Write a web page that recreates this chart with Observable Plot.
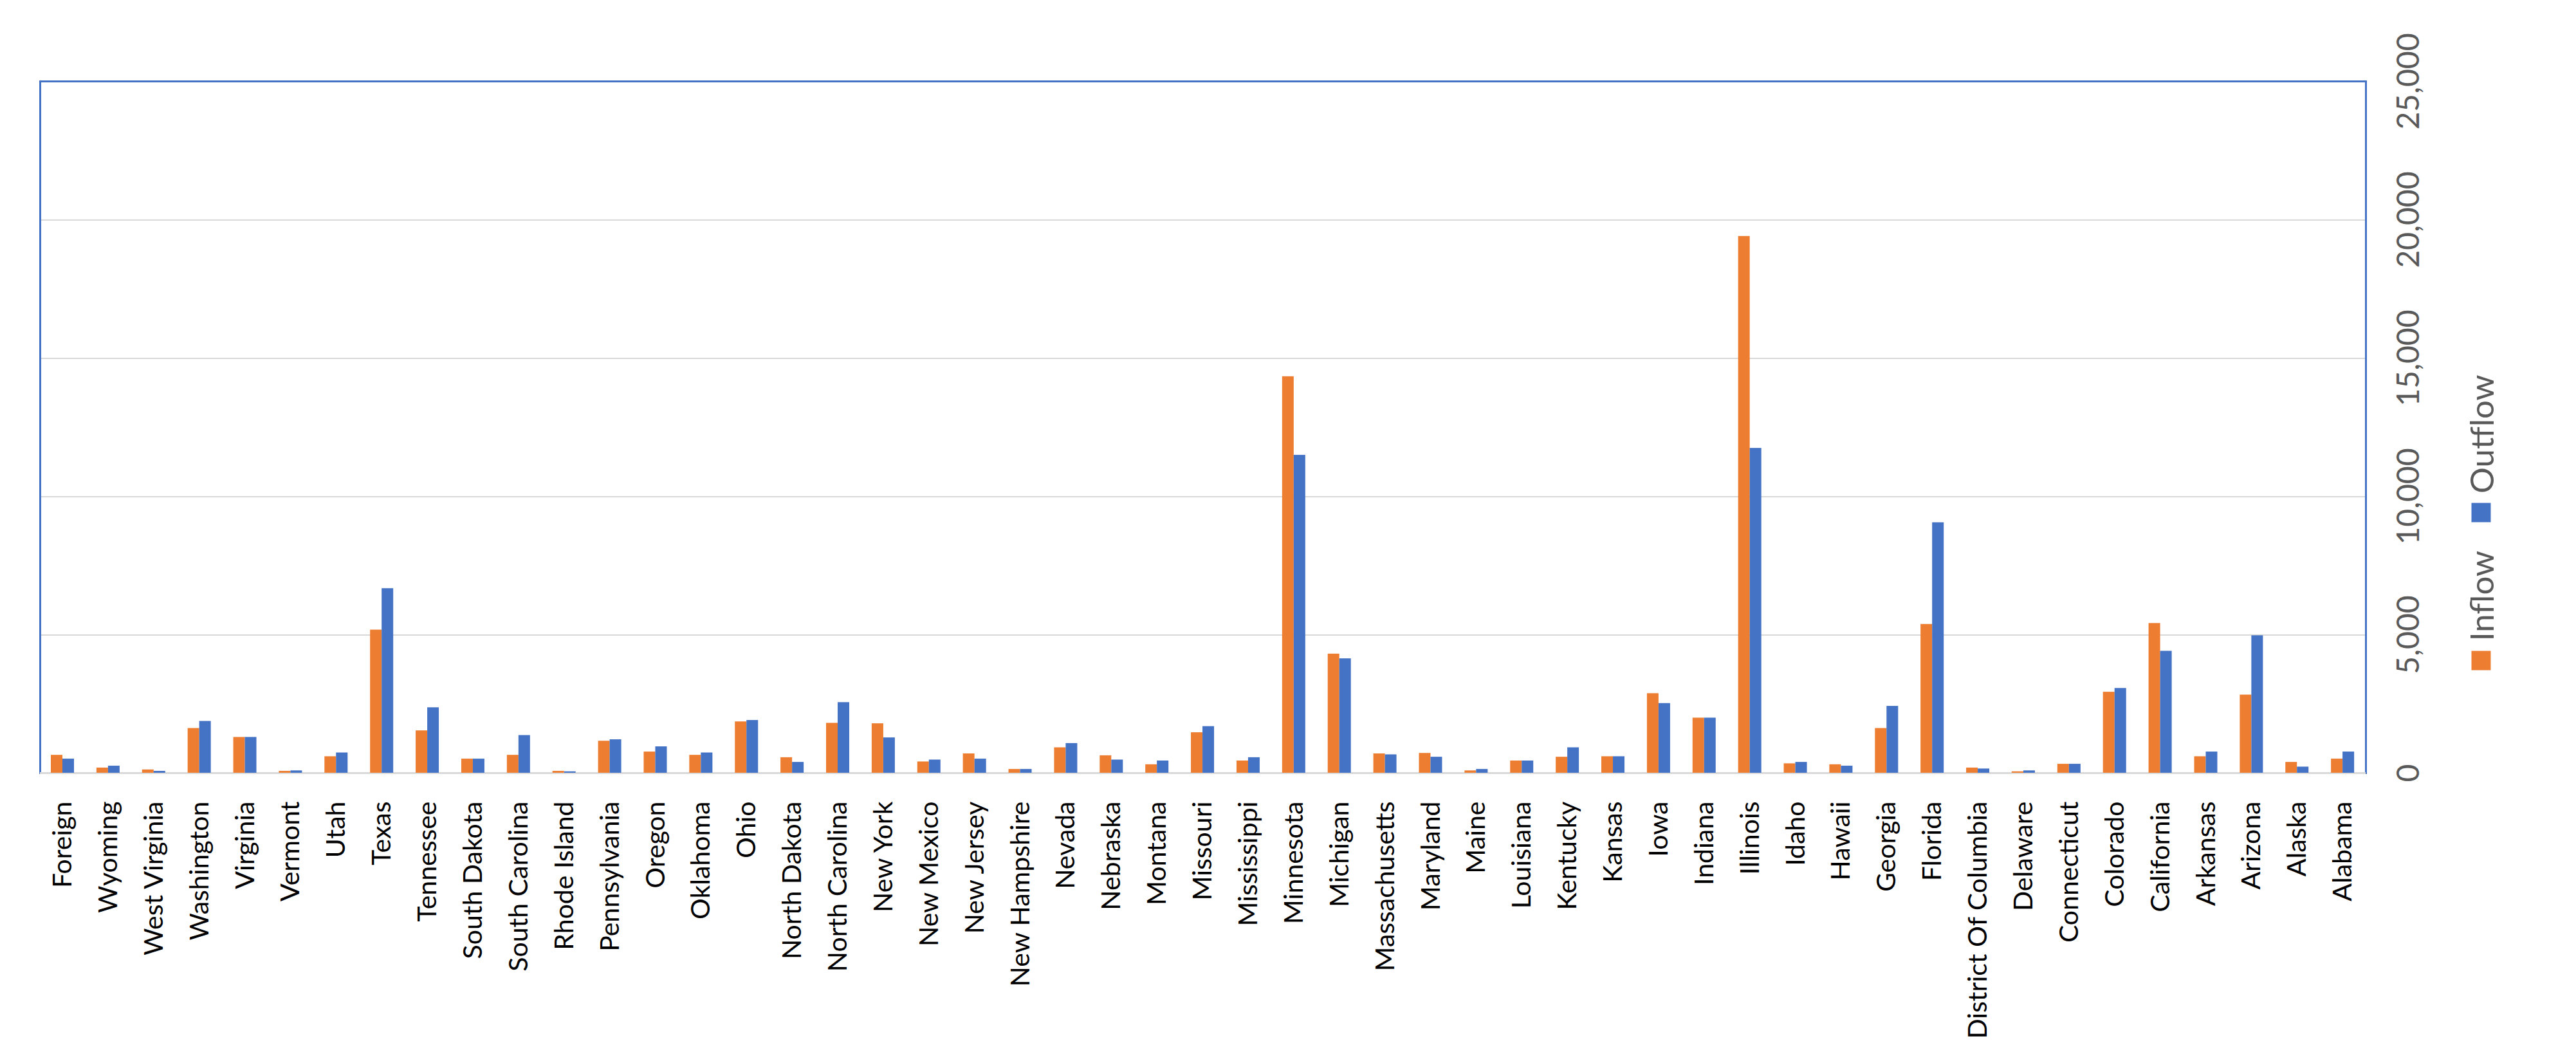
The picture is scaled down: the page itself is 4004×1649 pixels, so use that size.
<!DOCTYPE html>
<html>
<head>
<meta charset="utf-8">
<script src="https://cdn.jsdelivr.net/npm/d3@7"></script>
<script src="https://cdn.jsdelivr.net/npm/@observablehq/plot@0.6"></script>
<style>
  html, body { margin: 0; padding: 0; background: #fff; }
  #chart { position: relative; width: 4004px; height: 1649px; }
  #chart svg { position: absolute; left: 0; top: 0; }
  #legend {
    position: absolute; left: 3856px; top: 812px;
    transform: translate(-50%, -50%) rotate(-90deg);
    display: flex; align-items: center; white-space: nowrap;
    font-family: Lato, sans-serif; font-size: 51px; color: #595959;
  }
  #legend .sw { display: inline-block; width: 30px; height: 30px; margin-right: 15px; }
  #legend .item { display: flex; align-items: center; }
  #legend .item + .item { margin-left: 44px; }
</style>
</head>
<body>
<div id="chart"></div>
<script>
const states = ["Foreign","Wyoming","West Virginia","Washington","Virginia","Vermont","Utah","Texas","Tennessee","South Dakota","South Carolina","Rhode Island","Pennsylvania","Oregon","Oklahoma","Ohio","North Dakota","North Carolina","New York","New Mexico","New Jersey","New Hampshire","Nevada","Nebraska","Montana","Missouri","Mississippi","Minnesota","Michigan","Massachusetts","Maryland","Maine","Louisiana","Kentucky","Kansas","Iowa","Indiana","Illinois","Idaho","Hawaii","Georgia","Florida","District Of Columbia","Delaware","Connecticut","Colorado","California","Arkansas","Arizona","Alaska","Alabama"];
const inflow  = [647,187,119,1616,1293,68,596,5173,1531,510,647,68,1157,766,647,1855,561,1804,1787,408,698,136,919,630,306,1463,442,14330,4305,698,715,85,442,578,596,2876,1991,19400,340,306,1616,5377,187,51,323,2927,5411,596,2824,391,510];
const outflow = [510,255,68,1872,1293,85,732,6670,2365,510,1361,51,1208,953,732,1906,391,2552,1276,476,510,136,1072,476,442,1684,561,11490,4135,664,578,136,442,919,596,2518,1991,11740,391,255,2416,9052,153,85,323,3063,4407,766,4968,221,766];
const seriesNames = ["Inflow","Outflow"];
const seriesColors = ["#ED7D31","#4472C4"];
const yTicks = [0,5000,10000,15000,20000,25000];

const data = states.flatMap((s, i) => [
  {state: s, series: seriesNames[0], value: inflow[i]},
  {state: s, series: seriesNames[1], value: outflow[i]}
]);

const common = {
  width: 4004,
  height: 1649,
  marginLeft: 62,
  marginRight: 327,
  marginTop: 126,
  marginBottom: 448,
  y: {domain: [0, 25000]}
};

// Base layer: gridlines, frame, baseline, y axis
const base = Plot.plot({
  ...common,
  style: {fontFamily: "Lato, sans-serif", background: "#fff", overflow: "visible"},
  marks: [
    Plot.ruleY(yTicks.slice(1), {stroke: "#D9D9D9", strokeWidth: 2, shapeRendering: "crispEdges"}),
    Plot.frame({stroke: "#4472C4", strokeWidth: 3, shapeRendering: "crispEdges"}),
    Plot.ruleY([0], {stroke: "#D9D9D9", strokeWidth: 3, shapeRendering: "crispEdges"}),
    Plot.axisY({anchor: "right", ticks: yTicks, tickFormat: d3.format(","), tickSize: 0, tickRotate: -90, lineAnchor: "top", tickPadding: 48, fontSize: 48, fill: "#595959", label: null})
  ]
});

// Top layer: grouped bars and category axis
const bars = Plot.plot({
  ...common,
  style: {fontFamily: "Lato, sans-serif", background: "transparent", overflow: "visible"},
  fx: {domain: states, paddingInner: 0.48, paddingOuter: 0.24, label: null},
  x: {domain: seriesNames, padding: 0, axis: null},
  y: {domain: [0, 25000], axis: null},
  color: {domain: seriesNames, range: seriesColors},
  marks: [
    Plot.barY(data, {fx: "state", x: "series", y: "value", fill: "series"}),
    Plot.axisFx({anchor: "bottom", tickRotate: -90, tickSize: 0, tickPadding: 44, fontSize: 41, fill: "#000", label: null})
  ]
});

const host = document.getElementById("chart");
host.appendChild(base);
host.appendChild(bars);
const legend = document.createElement("div");
legend.id = "legend";
seriesNames.forEach((name, i) => {
  const item = document.createElement("span");
  item.className = "item";
  const sw = document.createElement("span");
  sw.className = "sw";
  sw.style.background = seriesColors[i];
  item.appendChild(sw);
  item.appendChild(document.createTextNode(name));
  legend.appendChild(item);
});
host.appendChild(legend);
</script>
</body>
</html>
